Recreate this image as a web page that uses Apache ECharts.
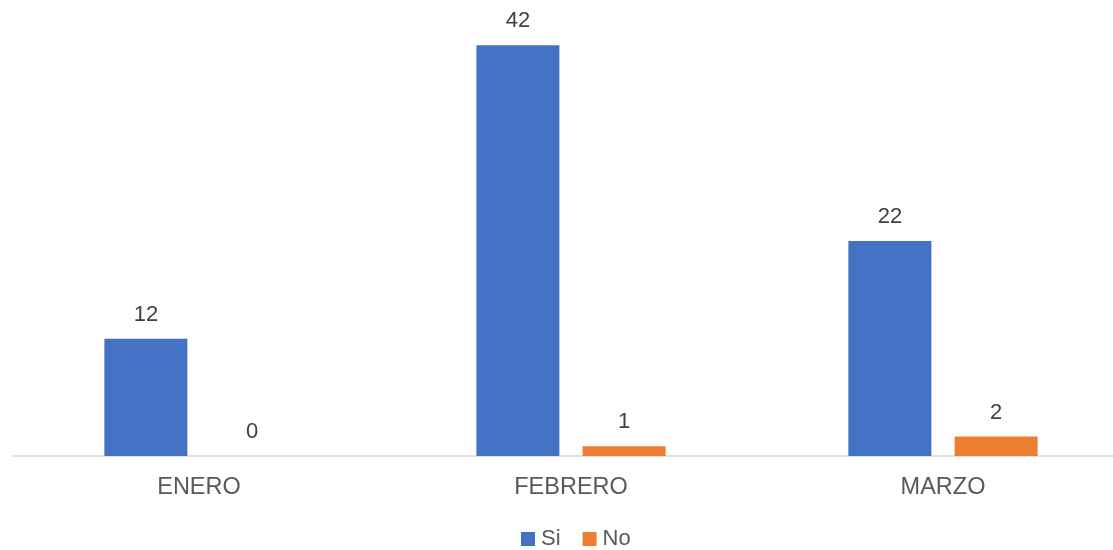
<!DOCTYPE html>
<html>
<head>
<meta charset="utf-8">
<script src="https://cdn.jsdelivr.net/npm/echarts@6/dist/echarts.min.js"></script>
<style>
  html, body { margin: 0; padding: 0; background: #fff; }
  #chart { width: 1113px; height: 550px; }
</style>
</head>
<body>
<div id="chart"></div>
<script>
// datos del grafico
var meses = ['ENERO', 'FEBRERO', 'MARZO'];
var si = [12, 42, 22];
var no = [0, 1, 2];

var myChart = echarts.init(document.getElementById('chart'));
var fuente = '"Liberation Sans", Arial, sans-serif';

var etiqueta = {
	show : true,
	position : 'top',
	distance : 13,
	color : '#404040',
	fontSize : 22,
	fontFamily : fuente
};

var option = {
	animation : false,
	textStyle : { fontFamily : fuente },
	legend : {
		data : [ 'Si', 'No' ],
		left : 521,
		top : 528,
		padding : 0,
		itemWidth : 14,
		itemHeight : 14,
		itemGap : 22,
		icon : 'rect',
		textStyle : { fontSize : 22, color : '#595959', padding : [ 0, 0, 0, 1 ] }
	},
	grid : {
		left : 13,
		top : 16,
		width : 1116,
		height : 440,
		outerBoundsMode : 'none'
	},
	xAxis : {
		type : 'category',
		data : meses,
		axisLine : { lineStyle : { color : '#d9d9d9', width : 1.5 } },
		axisTick : { show : false },
		axisLabel : { fontSize : 23.5, color : '#595959', margin : 20 }
	},
	yAxis : {
		type : 'value',
		min : 0,
		max : 45,
		show : false,
		splitLine : { show : false }
	},
	series : [ {
		name : 'Si',
		type : 'bar',
		data : si,
		barWidth : 83,
		barGap : '28%',
		itemStyle : { color : '#4472C4' },
		label : etiqueta
	}, {
		name : 'No',
		type : 'bar',
		data : no,
		barWidth : 83,
		itemStyle : { color : '#ED7D31' },
		label : etiqueta
	} ]
};
myChart.setOption(option);
</script>
</body>
</html>
